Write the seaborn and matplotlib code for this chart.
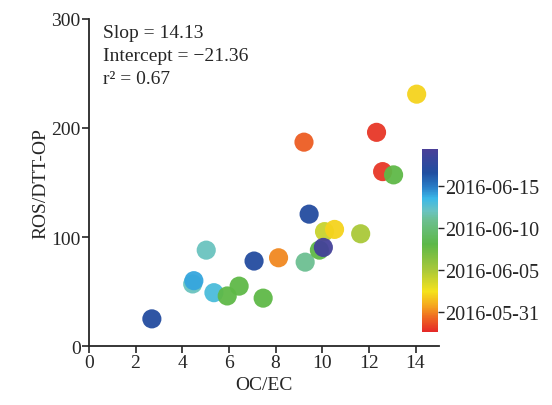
import matplotlib
matplotlib.use("Agg")
import matplotlib.pyplot as plt
import matplotlib.dates as mdates
from matplotlib.colors import LinearSegmentedColormap, Normalize
from matplotlib.cm import ScalarMappable
import pandas as pd
import seaborn as sns

# values
oc_ec = [2.7, 4.45, 4.5, 5.03, 5.36, 5.93, 6.44, 7.47, 7.08, 8.13, 9.27, 9.44,
         10.1, 10.53, 9.88, 10.05, 11.65, 9.22, 12.33, 12.59, 13.06, 14.05]
ros_dtt = [25, 57, 60, 88, 49, 46, 55, 44, 78, 81, 77, 121,
           105, 107, 88, 90.5, 103, 187, 196, 160, 157, 231]
dates = ["2016-06-17", "2016-06-12", "2016-06-14", "2016-06-12", "2016-06-13",
         "2016-06-08", "2016-06-08", "2016-06-08", "2016-06-17", "2016-05-31",
         "2016-06-11", "2016-06-17", "2016-06-04", "2016-06-02", "2016-06-08",
         "2016-06-19", "2016-06-05", "2016-05-30", "2016-05-29", "2016-05-29",
         "2016-06-08", "2016-06-02"]
cbar_ticks = ["2016-05-31", "2016-06-05", "2016-06-10", "2016-06-15"]
date_range = ["2016-05-28 14:00", "2016-06-19 12:00"]

stats_text = "Slop = 14.13\nIntercept = \u221221.36\nr\u00b2 = 0.67"

df = pd.DataFrame({"oc_ec": oc_ec, "ros_dtt": ros_dtt,
                   "date": mdates.date2num(pd.to_datetime(dates))})

# rainbow colour bar as drawn in the reference (red at the bottom, purple on top)
cmap = LinearSegmentedColormap.from_list("rainbow_ref", [
    (0.0, "#e52a28"), (0.08, "#ee6b22"), (0.14, "#f5a51e"), (0.22, "#f5e21c"),
    (0.34, "#a8c83a"), (0.48, "#5cb848"), (0.61, "#6cbf90"), (0.66, "#6ac3c0"),
    (0.73, "#3ab8e8"), (0.79, "#2a7fc8"), (0.87, "#1f4ea0"), (1.0, "#4a3f98")])
lo, hi = mdates.date2num(pd.to_datetime(date_range))
norm = Normalize(vmin=lo, vmax=hi)

sns.set_style("ticks")
plt.rcParams["font.family"] = ["Liberation Serif", "DejaVu Serif"]
plt.rcParams["font.size"] = 14

fig = plt.figure(figsize=(5.52, 4.06), dpi=100)
ax = fig.add_axes([0.161, 0.145, 0.634, 0.806])

sns.scatterplot(data=df, x="oc_ec", y="ros_dtt", hue="date", palette=cmap,
                hue_norm=norm, s=190, linewidth=0, alpha=0.95, legend=False, ax=ax)

ax.set_xlim(0, 15)
ax.set_ylim(0, 300)
ax.set_xticks(range(0, 15, 2))
ax.set_yticks([0, 100, 200, 300])
ax.set_xlabel("OC/EC", fontsize=14, labelpad=3)
ax.set_ylabel("ROS/DTT-OP", fontsize=14, labelpad=1)
for sp in ["top", "right"]:
    ax.spines[sp].set_visible(False)
for sp in ["left", "bottom"]:
    ax.spines[sp].set_linewidth(1.3)
ax.tick_params(direction="out", length=5, width=1.2, labelsize=14, pad=1)

ax.text(0.04, 0.985, stats_text, transform=ax.transAxes, va="top", ha="left",
        fontsize=14, linespacing=1.45)

cax = fig.add_axes([0.765, 0.18, 0.029, 0.451])
sm = ScalarMappable(norm=norm, cmap=cmap)
cb = fig.colorbar(sm, cax=cax)
cb.outline.set_visible(False)
cb.set_ticks(mdates.date2num(pd.to_datetime(cbar_ticks)))
cb.ax.yaxis.set_major_formatter(mdates.DateFormatter("%Y-%m-%d"))
cb.ax.tick_params(length=4, width=1, labelsize=14.5, pad=1)

fig.savefig("out.png", dpi=100)
